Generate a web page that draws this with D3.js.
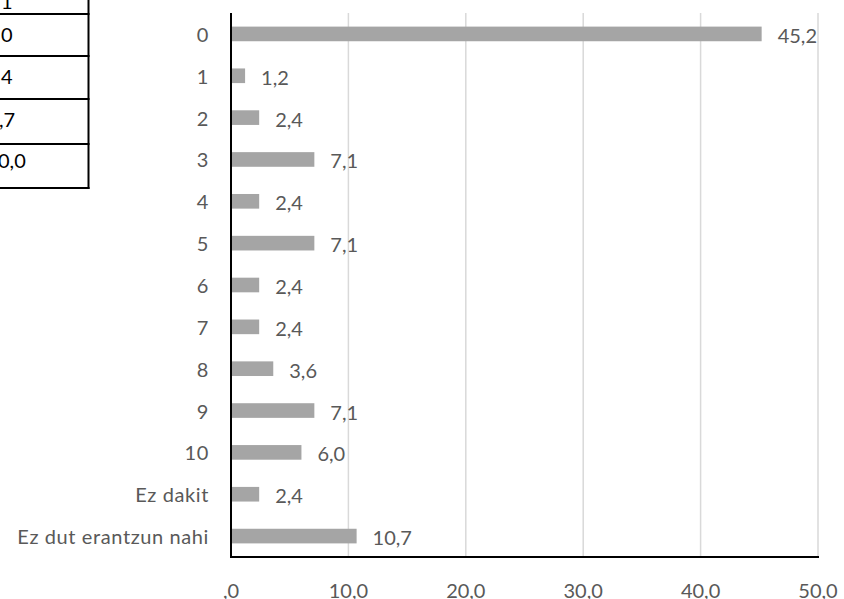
<!DOCTYPE html>
<html>
<head>
<meta charset="utf-8">
<script src="https://cdn.jsdelivr.net/npm/d3@7"></script>
<style>
  html, body { margin: 0; padding: 0; background: #fff; }
  svg { display: block; }
  text { font-family: Lato, "Open Sans", sans-serif; }
</style>
</head>
<body>
<svg id="chart" width="844" height="599"></svg>
<script>
// ---- data ----
const categories = ["0","1","2","3","4","5","6","7","8","9","10","Ez dakit","Ez dut erantzun nahi"];
const values = [45.2, 1.2, 2.4, 7.1, 2.4, 7.1, 2.4, 2.4, 3.6, 7.1, 6.0, 2.4, 10.7];
const tickValues = [0, 10, 20, 30, 40, 50];
const tickLabels = [",0", "10,0", "20,0", "30,0", "40,0", "50,0"];
// fragment of a neighbouring table, clipped at the left edge
const tableTexts = ["1", "0", "4", ",7", "0,0"];

// ---- layout ----
const svg = d3.select("#chart");
const W = 844, H = 599;
const plotLeft = 231, plotRight = 818, plotTop = 13, plotBottom = 557;
const textColor = "#595959", barColor = "#A5A5A5", gridColor = "#D9D9D9";

svg.append("rect").attr("width", W).attr("height", H).attr("fill", "#fff");

const x = d3.scaleLinear().domain([0, 50]).range([plotLeft, plotRight]);
const y = d3.scaleBand().domain(categories).range([plotTop, plotBottom])
  .paddingInner(0.65).paddingOuter(0.325);

const fmt = v => d3.format(".1f")(v).replace(".", ",");

// table fragment
const tableLines = [14, 56, 99, 144, 188];
const tg = svg.append("g");
tableLines.forEach(yy => {
  tg.append("line").attr("x1", 0).attr("x2", 89.5).attr("y1", yy).attr("y2", yy)
    .attr("stroke", "#000").attr("stroke-width", 2);
});
tg.append("line").attr("x1", 88.5).attr("x2", 88.5).attr("y1", 0).attr("y2", 189)
  .attr("stroke", "#000").attr("stroke-width", 2);
const tablePos = [[1, 9], [1, 42], [1, 84], [-1, 127], [-2, 168]];
tableTexts.forEach((t, i) => {
  tg.append("text").attr("x", tablePos[i][0]).attr("y", tablePos[i][1])
    .attr("font-size", 20).attr("fill", "#000").text(t);
});

// gridlines
svg.append("g").selectAll("line").data(tickValues.filter(d => d > 0)).join("line")
  .attr("x1", d => x(d)).attr("x2", d => x(d))
  .attr("y1", plotTop).attr("y2", plotBottom)
  .attr("stroke", gridColor).attr("stroke-width", 1.5);

// bars
svg.append("g").selectAll("rect").data(values).join("rect")
  .attr("x", x(0))
  .attr("y", (d, i) => y(categories[i]))
  .attr("width", d => x(d) - x(0))
  .attr("height", y.bandwidth())
  .attr("fill", barColor);

// value labels
svg.append("g").selectAll("text").data(values).join("text")
  .attr("x", d => x(d) + 16)
  .attr("y", (d, i) => y(categories[i]) + y.bandwidth() / 2 + 1)
  .attr("dominant-baseline", "central")
  .attr("font-size", 20).attr("fill", textColor)
  .text(d => fmt(d));

// category axis labels
svg.append("g").selectAll("text").data(categories).join("text")
  .attr("x", 209)
  .attr("y", d => y(d) + y.bandwidth() / 2)
  .attr("dominant-baseline", "central")
  .attr("text-anchor", "end")
  .attr("font-size", 20).attr("letter-spacing", 0.6).attr("fill", textColor)
  .text(d => d);

// x tick labels
svg.append("g").selectAll("text").data(tickValues).join("text")
  .attr("x", d => x(d))
  .attr("y", 590)
  .attr("dominant-baseline", "central")
  .attr("text-anchor", "middle")
  .attr("font-size", 20).attr("fill", textColor)
  .text((d, i) => tickLabels[i]);

// axis lines
svg.append("line").attr("x1", plotLeft).attr("x2", plotLeft)
  .attr("y1", plotTop).attr("y2", plotBottom + 1)
  .attr("stroke", "#000").attr("stroke-width", 2);
svg.append("line").attr("x1", plotLeft - 1).attr("x2", plotRight + 1)
  .attr("y1", plotBottom).attr("y2", plotBottom)
  .attr("stroke", "#000").attr("stroke-width", 2);
</script>
</body>
</html>
